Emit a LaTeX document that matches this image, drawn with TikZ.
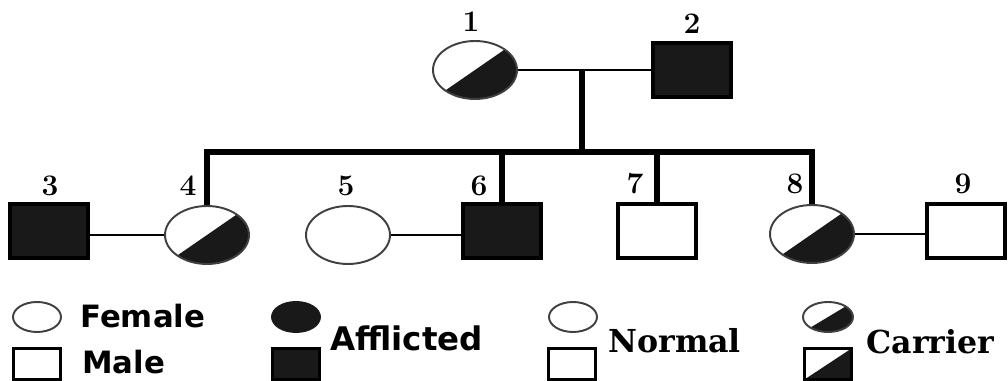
\documentclass[tikz,border=0pt]{standalone}
\usepackage{fontspec}
\newfontfamily\legendsans{DejaVu Sans}
\newfontfamily\legendserif{DejaVu Serif}
\usetikzlibrary{shapes.geometric}
\begin{document}
\begin{tikzpicture}[x=0.02cm,y=-0.02cm,
  female/.style={ellipse, draw=black!75, line width=1.1pt, inner sep=0pt,
                 minimum width=1.68cm, minimum height=1.16cm},
  male/.style={rectangle, draw=black, line width=2.4pt, inner sep=0pt,
               minimum width=1.56cm, minimum height=1.08cm},
  afflicted/.style={fill=black!90},
  carrier/.style={path picture={\fill[black!90]
      (path picture bounding box.north east) --
      (path picture bounding box.south west) --
      (path picture bounding box.south east) -- cycle;}},
  num/.style={font=\fontsize{17}{20}\selectfont\bfseries, inner sep=0pt},
  marriage/.style={line width=1.3pt},
  descent/.style={line width=3pt},
  legsans/.style={font=\legendsans\fontsize{17.5}{20}\selectfont\bfseries,
                  anchor=west, inner sep=0pt},
  legserif/.style={font=\legendserif\fontsize{18}{20}\selectfont\bfseries,
                  anchor=west, inner sep=0pt},
  legf/.style={female, minimum width=0.96cm, minimum height=0.6cm},
  legm/.style={male, minimum width=0.94cm, minimum height=0.62cm, line width=2.2pt}
]
\useasboundingbox (0,0) rectangle (1008,381);

% generation I
\node[female, carrier] (n1) at (475,70) {};
\node[male, afflicted] (n2) at (692,70) {};
\node[num] (l1) at (471,22) {1};
\node[num] (l2) at (692,24) {2};

% generation II
\node[male, afflicted] (n3) at (49,231) {};
\node[female, carrier] (n4) at (207,235) {};
\node[female] (n5) at (348,235) {};
\node[male, afflicted] (n6) at (502,231) {};
\node[male] (n7) at (657,231) {};
\node[female, carrier] (n8) at (812,234) {};
\node[male] (n9) at (966,231) {};

\node[num] (l3) at (50,186) {3};
\node[num] (l4) at (188,186) {4};
\node[num] (l5) at (346,186) {5};
\node[num] (l6) at (479,186) {6};
\node[num] (l7) at (635,184) {7};
\node[num] (l8) at (795,184) {8};
\node[num] (l9) at (963,184) {9};

% mating lines
\coordinate (m12) at (582,70);
\coordinate (sib) at (582,152);
\draw[marriage] (n1.east) -- (n2.west);
\draw[marriage] (n4.west) -- (n4.west -| n3.east);
\draw[marriage] (n5.east) -- (n5.east -| n6.west);
\draw[marriage] (n8.east) -- (n8.east -| n9.west);

% line of descent and sibship
\draw[descent] (m12) -- (sib);
\draw[descent] (n4.north) |- (sib) -| (n8.north);
\draw[descent] (n6.north) -- (n6.north |- sib);
\draw[descent] (n7.north) -- (n7.north |- sib);

% legend
\node[legf] (kf) at (37,317) {};
\node[legm] (km) at (37,364) {};
\node[legsans] (tf) at (80,316) {Female};
\node[legsans] (tm) at (82,362) {Male};

\node[legf, afflicted, draw=black!90] (kaf) at (296,317) {};
\node[legm, afflicted] (kam) at (296,364) {};
\node[legsans, font=\legendsans\fontsize{18.5}{20}\selectfont\bfseries] (ta) at (330,338) {Afflicted};

\node[legf] (knf) at (573,317) {};
\node[legm] (knm) at (572,364) {};
\node[legserif] (tn) at (608,341) {Normal};

\node[legf, carrier, minimum width=1.0cm] (kcf) at (828,317) {};
\node[legm, carrier] (kcm) at (828,364) {};
\node[legserif] (tc) at (866,342) {Carrier};
\end{tikzpicture}
\end{document}
